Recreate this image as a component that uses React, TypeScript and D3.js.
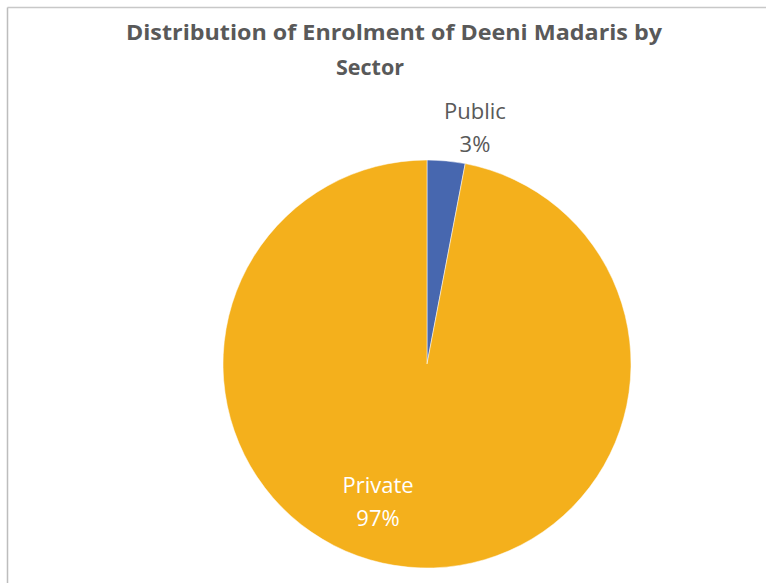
import React from "react";
import * as d3 from "d3";

const categories = ["Public", "Private"];
const values = [3, 97];
const labels = ["3%", "97%"];
const colors = ["#4767AF", "#F4B01C"];
const titleLines = ["Distribution of Enrolment of Deeni Madaris by", "Sector"];

export default function App() {
  const W = 766, H = 583;
  const cx = 427, cy = 364, r = 204;
  const pie = d3.pie<number>().sort(null).value((d) => d)(values);
  const arc = d3.arc<d3.PieArcDatum<number>>().innerRadius(0).outerRadius(r);
  return (
    <svg width={W} height={H} style={{ position: "absolute", left: 0, top: 0 }}>
      <rect x={0} y={0} width={W} height={H} fill="#ffffff" />
      <line x1={7.5} y1={7.5} x2={W} y2={7.5} stroke="#c8c8c8" strokeWidth={1.5} />
      <line x1={7.5} y1={7.5} x2={7.5} y2={H} stroke="#bdbdbd" strokeWidth={1.5} />
      <text
        x={394}
        y={40}
        textAnchor="middle"
        fontFamily="'Open Sans', sans-serif"
        fontWeight="bold"
        fontSize={21.5}
        fill="#595959"
        textLength={536}
        lengthAdjust="spacingAndGlyphs"
      >
        {titleLines[0]}
      </text>
      <text
        x={370}
        y={75}
        textAnchor="middle"
        fontFamily="'Open Sans', sans-serif"
        fontWeight="bold"
        fontSize={21.5}
        fill="#595959"
      >
        {titleLines[1]}
      </text>
      <g transform={`translate(${cx},${cy})`}>
        {pie.map((p, i) => (
          <path key={categories[i]} d={arc(p) || ""} fill={colors[i]} stroke="#ffffff" strokeWidth={0.5} />
        ))}
      </g>
      <g fontFamily="'Open Sans', sans-serif" fontSize={22} textAnchor="middle">
        <text x={cx + r * 0.235} y={cy - r * 1.2} fill="#595959">{categories[0]}</text>
        <text x={cx + r * 0.235} y={cy - r * 1.04} fill="#595959">{labels[0]}</text>
        <text x={cx - r * 0.24} y={cy + r * 0.63} fill="#ffffff">{categories[1]}</text>
        <text x={cx - r * 0.24} y={cy + r * 0.795} fill="#ffffff">{labels[1]}</text>
      </g>
    </svg>
  );
}
